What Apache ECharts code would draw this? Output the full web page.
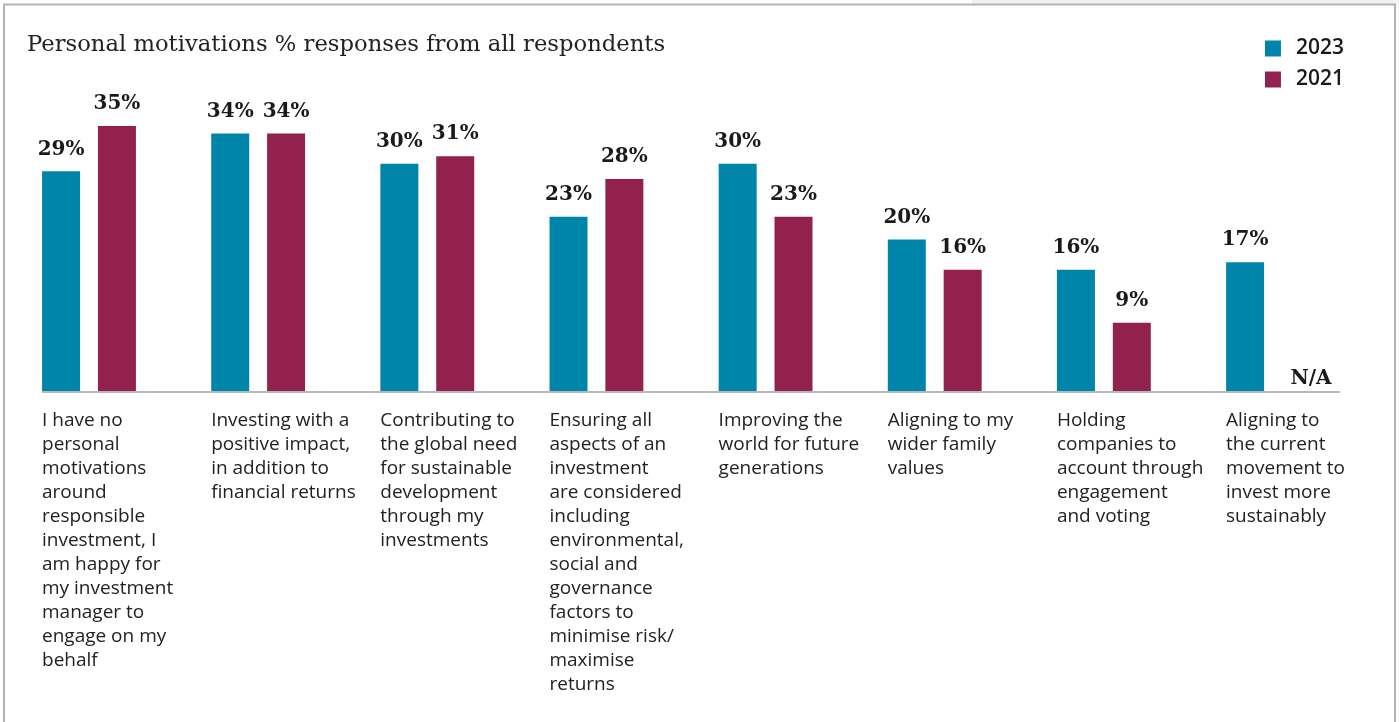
<!DOCTYPE html>
<html>
<head>
<meta charset="utf-8">
<script src="https://cdn.jsdelivr.net/npm/echarts@6/dist/echarts.min.js"></script>
<style>
  html, body { margin: 0; padding: 0; background: #fff; }
  #chart { width: 1399px; height: 722px; }
</style>
</head>
<body>
<div id="chart"></div>
<script>
// Survey answers: personal motivations for responsible investment
const categories = [
  'I have no\npersonal\nmotivations\naround\nresponsible\ninvestment, I\nam happy for\nmy investment\nmanager to\nengage on my\nbehalf',
  'Investing with a\npositive impact,\nin addition to\nfinancial returns',
  'Contributing to\nthe global need\nfor sustainable\ndevelopment\nthrough my\ninvestments',
  'Ensuring all\naspects of an\ninvestment\nare considered\nincluding\nenvironmental,\nsocial and\ngovernance\nfactors to\nminimise risk/\nmaximise\nreturns',
  'Improving the\nworld for future\ngenerations',
  'Aligning to my\nwider family\nvalues',
  'Holding\ncompanies to\naccount through\nengagement\nand voting',
  'Aligning to\nthe current\nmovement to\ninvest more\nsustainably'
];
const values2023 = [29, 34, 30, 23, 30, 20, 16, 17];
const values2021 = [35, 34, 31, 28, 23, 16, 9, null]; // last option not asked in 2021

const TEAL = '#0085aa';
const MAROON = '#92214e';

const chart = echarts.init(document.getElementById('chart'));

const valueLabel = {
  show: true,
  position: 'top',
  distance: 12,
  formatter: '{c}%',
  fontFamily: 'DejaVu Serif',
  fontWeight: 'bold',
  fontSize: 20,
  color: '#1a1a1a'
};

const data2021 = values2021.map(v => v === null
  ? { value: 0, label: { formatter: 'N/A', distance: 2, offset: [10, 0] } }
  : v);

chart.setOption({
  animation: false,
  title: {
    text: 'Personal motivations % responses from all respondents',
    left: 22,
    top: 29,
    textStyle: {
      fontFamily: 'DejaVu Serif',
      fontWeight: 'normal',
      fontSize: 22.7,
      color: '#222'
    }
  },
  legend: {
    orient: 'vertical',
    right: 55,
    top: 38,
    padding: 0,
    itemWidth: 16,
    itemHeight: 16,
    itemGap: 10,
    icon: 'rect',
    textStyle: {
      fontFamily: 'Open Sans',
      fontWeight: 600,
      fontSize: 21,
      lineHeight: 20,
      color: '#1a1a1a',
      padding: [0, 0, 0, 10]
    },
    data: ['2023', '2021']
  },
  grid: {
    left: 4.43,
    right: 41.4,
    top: 88,
    bottom: 331,
    containLabel: false
  },
  xAxis: {
    type: 'category',
    data: categories,
    axisLine: { show: false },
    axisTick: { show: false },
    axisLabel: {
      interval: 0,
      align: 'left',
      verticalAlign: 'top',
      margin: 18,
      padding: [0, 0, 0, -47],
      fontFamily: 'Open Sans',
      fontSize: 19,
      lineHeight: 24,
      color: '#222'
    }
  },
  yAxis: {
    type: 'value',
    min: 0,
    max: 40,
    show: false
  },
  series: [
    {
      name: '2023',
      type: 'bar',
      data: values2023,
      barWidth: 38,
      barGap: '47%',
      itemStyle: { color: TEAL },
      label: valueLabel
    },
    {
      name: '2021',
      type: 'bar',
      data: data2021,
      barWidth: 38,
      itemStyle: { color: MAROON },
      label: valueLabel
    }
  ]
});

// Baseline under the bars and the panel frame
const baseY = chart.convertToPixel({ yAxisIndex: 0 }, 0);
chart.setOption({
  graphic: [
    {
      type: 'rect',
      shape: { x: 972, y: 0, width: 427, height: 4 },
      style: { fill: '#f2f2f2' },
      silent: true
    },
    {
      type: 'rect',
      shape: { x: 4, y: 4.5, width: 1391, height: 730 },
      style: { fill: 'none', stroke: '#b4b4b4', lineWidth: 2 },
      silent: true
    },
    {
      type: 'line',
      shape: { x1: 42, y1: baseY + 1, x2: 1340, y2: baseY + 1 },
      style: { stroke: '#b8b8b8', lineWidth: 2 },
      silent: true
    }
  ]
});
</script>
</body>
</html>
